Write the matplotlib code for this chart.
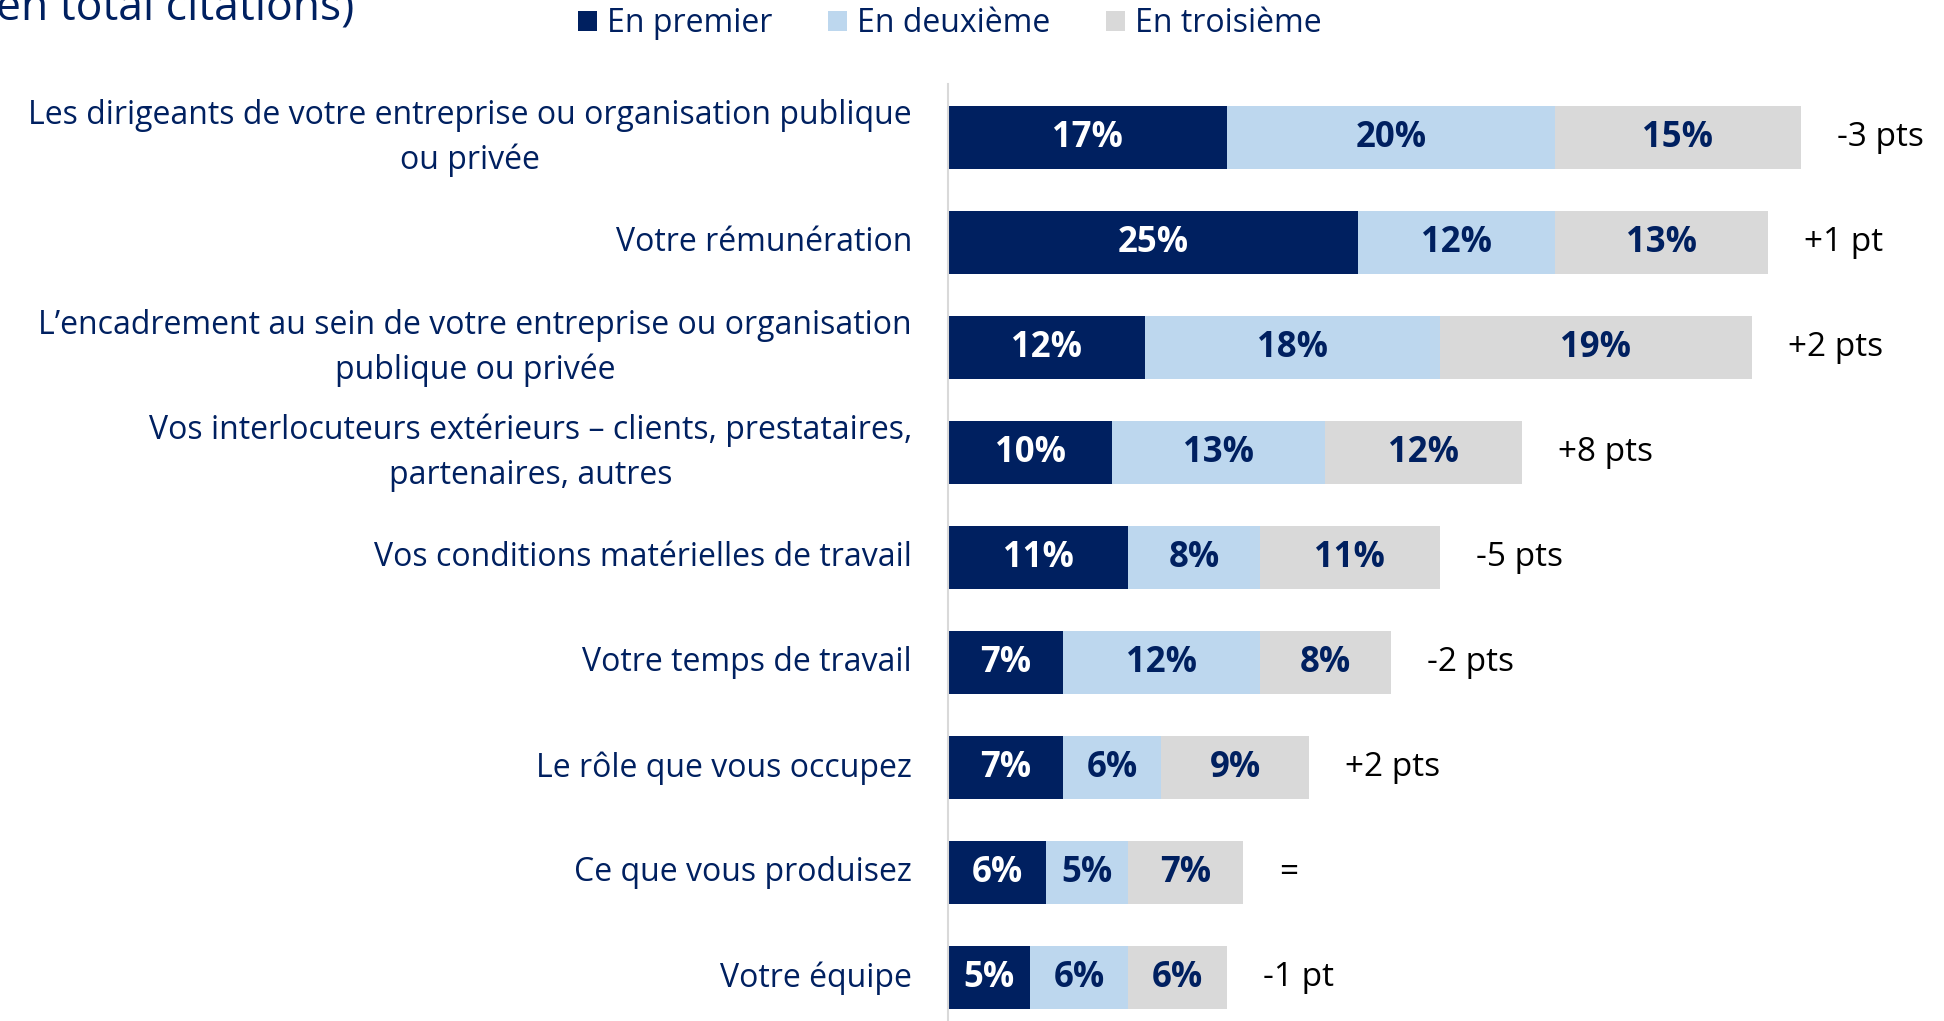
import matplotlib
matplotlib.use("Agg")
import matplotlib.pyplot as plt
from matplotlib.patches import Patch

plt.rcParams['font.family'] = ['Open Sans', 'DejaVu Sans']

# === Données ===
categories = [
    "Les dirigeants de votre entreprise ou organisation publique\nou privée",
    "Votre rémunération",
    "L’encadrement au sein de votre entreprise ou organisation\npublique ou privée",
    "Vos interlocuteurs extérieurs – clients, prestataires,\npartenaires, autres",
    "Vos conditions matérielles de travail",
    "Votre temps de travail",
    "Le rôle que vous occupez",
    "Ce que vous produisez",
    "Votre équipe",
]
premier = [17, 25, 12, 10, 11, 7, 7, 6, 5]
deuxieme = [20, 12, 18, 13, 8, 12, 6, 5, 6]
troisieme = [15, 13, 19, 12, 11, 8, 9, 7, 6]
evolution = ["-3 pts", "+1 pt", "+2 pts", "+8 pts", "-5 pts", "-2 pts", "+2 pts", "=", "-1 pt"]
series_names = ["En premier", "En deuxième", "En troisième"]

NAVY = '#002060'
LIGHT = '#BDD7EE'
GREY = '#D9D9D9'
colors = [NAVY, LIGHT, GREY]
text_colors = ['white', NAVY, NAVY]

fig = plt.figure(figsize=(19.44, 10.21), dpi=100)
ax = fig.add_axes([948 / 1944, 0, 996 / 1944, (1021 - 84) / 1021])

y = list(range(len(categories)))
left = [0] * len(categories)
for vals, col, tcol in zip([premier, deuxieme, troisieme], colors, text_colors):
    bars = ax.barh(y, vals, left=left, height=0.6, color=col, edgecolor='none')
    for b, v in zip(bars, vals):
        ax.text(b.get_x() + b.get_width() / 2, b.get_y() + b.get_height() / 2,
                f"{v}%", ha='center', va='center', color=tcol,
                fontsize=25, fontweight='bold')
    left = [l + v for l, v in zip(left, vals)]

# évolution à droite des barres
for yi, tot, ev in zip(y, left, evolution):
    ax.text(tot + 2.2, yi, ev, ha='left', va='center', fontsize=24, color='black')

# libellés des catégories
for yi, cat in zip(y, categories):
    ax.text(-36 / 996, yi, cat, transform=ax.get_yaxis_transform(),
            ha='right', va='center', multialignment='center', linespacing=1.45,
            fontsize=23, color=NAVY)

ax.set_xlim(0, 996 / 16.4)
ax.set_ylim(8.41, -0.51)
ax.set_yticks([])
ax.set_xticks([])
for s in ['top', 'right', 'bottom']:
    ax.spines[s].set_visible(False)
ax.spines['left'].set_color(GREY)
ax.spines['left'].set_linewidth(1.5)

# légende
handles = [Patch(facecolor=c, edgecolor='none') for c in colors]
leg = fig.legend(handles, series_names, loc='center left',
                 bbox_to_anchor=(578 / 1944, 1 - 24 / 1021), ncol=3, frameon=False,
                 fontsize=23, handlelength=0.6, handleheight=0.6,
                 handletextpad=0.3, columnspacing=1.75, borderaxespad=0, borderpad=0)
for t in leg.get_texts():
    t.set_color(NAVY)

# titre coupé en haut
fig.text(-0.002, 1 - 21 / 1021, "en total citations)", fontsize=32, color=NAVY,
         ha='left', va='baseline')

fig.savefig('out.png', dpi=100)
